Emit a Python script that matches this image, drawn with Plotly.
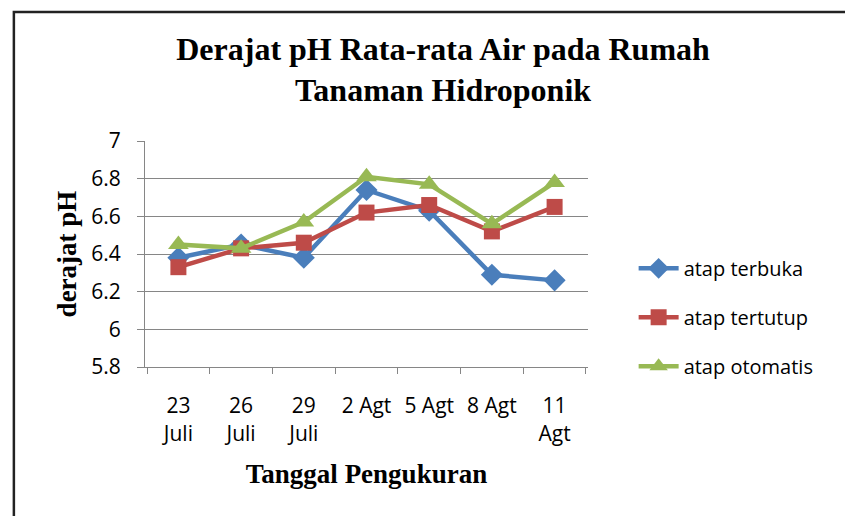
import plotly.graph_objects as go

tanggal = ["23<br>Juli", "26<br>Juli", "29<br>Juli", "2 Agt", "5 Agt", "8 Agt", "11<br>Agt"]
atap_terbuka = [6.38, 6.45, 6.38, 6.74, 6.63, 6.29, 6.26]
atap_tertutup = [6.33, 6.43, 6.46, 6.62, 6.66, 6.52, 6.65]
atap_otomatis = [6.45, 6.43, 6.57, 6.81, 6.77, 6.56, 6.78]

serif = "Liberation Serif"
sans = "Open Sans"

fig = go.Figure()
fig.add_trace(go.Scatter(
    x=tanggal, y=atap_terbuka, name="atap terbuka", mode="lines+markers",
    legendgroup="a",
    line=dict(color="#4A7EBB", width=4.5),
    marker=dict(symbol="diamond", size=17, color="#4A7EBB"),
))
fig.add_trace(go.Scatter(
    x=tanggal, y=atap_tertutup, name="atap tertutup", mode="lines+markers",
    legendgroup="b",
    line=dict(color="#BE4B48", width=4.5),
    marker=dict(symbol="square", size=16, color="#BE4B48"),
))
fig.add_trace(go.Scatter(
    x=tanggal, y=atap_otomatis, name="atap otomatis", mode="lines+markers",
    legendgroup="c",
    line=dict(color="#98B954", width=4.5),
    marker=dict(symbol="triangle-up", size=18, color="#98B954"),
))

fig.update_layout(
    width=853, height=516,
    margin=dict(l=137, r=273, t=133, b=157),
    paper_bgcolor="white", plot_bgcolor="white",
    title=dict(
        text="Derajat pH Rata-rata Air pada Rumah<br>Tanaman Hidroponik",
        x=0.51, xanchor="center", y=0.9, yanchor="middle",
        font=dict(family=serif, size=32, color="black", weight="bold"),
    ),
    legend=dict(
        x=1.103, y=0.22, xanchor="left", yanchor="middle",
        font=dict(family=sans, size=20, color="black"),
        tracegroupgap=20, itemwidth=40,
    ),
    showlegend=True,
)
fig.update_xaxes(
    type="category", tickson="boundaries", ticks="outside", ticklen=6,
    tickcolor="#868686", showline=True, linecolor="#868686", linewidth=1,
    showgrid=False, tickfont=dict(family=sans, size=21, color="black"),
    ticklabelstandoff=20,
    title=dict(text="Tanggal Pengukuran", standoff=18,
               font=dict(family=serif, size=27, color="black", weight="bold")),
)
fig.update_yaxes(
    range=[5.8, 7], dtick=0.2, ticks="outside", ticklen=7, tickcolor="#868686",
    showline=True, linecolor="#868686", linewidth=1,
    showgrid=True, gridcolor="#868686", gridwidth=1, zeroline=False,
    tickfont=dict(family=sans, size=21, color="black"),
    ticklabelstandoff=12,
    title=dict(text="derajat pH", standoff=6,
               font=dict(family=serif, size=27, color="black", weight="bold")),
)

# outer frame of the chart (partly cut off at right and bottom)
fig.add_shape(type="rect", xref="paper", yref="paper",
              x0=-0.296, x1=1.7, y0=-1.0, y1=1.571,
              line=dict(color="#222222", width=2.5), layer="below")

fig.write_html("out.html")
